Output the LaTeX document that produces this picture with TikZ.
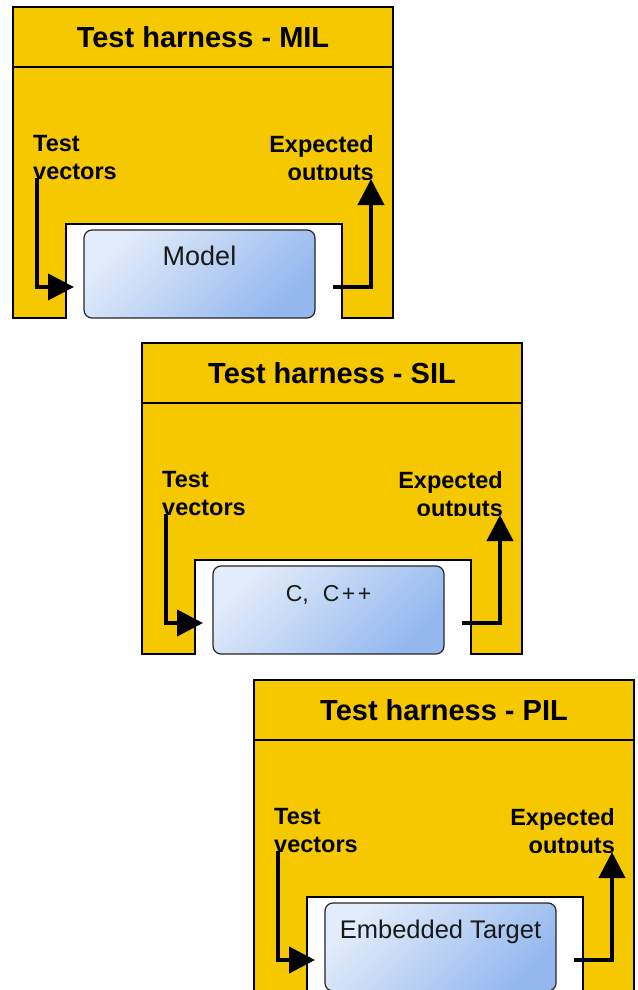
\documentclass[tikz,border=0pt]{standalone}
\usepackage{fontspec}
\setmainfont{Liberation Sans}
\usetikzlibrary{arrows.meta}
\definecolor{harnessyellow}{HTML}{F5C800}
\definecolor{boxlight}{HTML}{E2ECFA}
\definecolor{boxdark}{HTML}{94B8EE}
\tikzset{
  frame/.style={draw=black, line width=1.5pt, fill=harnessyellow, line join=miter},
  divider/.style={draw=black, line width=1.5pt},
  titletext/.style={inner sep=0pt, font=\bfseries\fontsize{29}{34}\selectfont},
  lbl/.style={inner sep=0pt, font=\bfseries\fontsize{23.5}{28}\selectfont},
  modelbox/.style={draw=black!85, line width=1.2pt, rounded corners=8pt,
    top color=boxlight, bottom color=boxdark, shading angle=45,
    minimum width=231pt, inner xsep=0pt, inner ysep=0pt,
    text height=35pt, text depth=53pt, anchor=base, text=black!90},
  flow/.style={draw=black, line width=4pt, line join=miter,
    -{Triangle[length=26pt,width=26pt]}},
}
\newcommand{\harness}[6]{%
  \begin{scope}[shift={(#1,#2)}]
    \draw[frame] (0,0) -- (380,0) -- (380,311) -- (329,311) -- (329,217)
      -- (53,217) -- (53,311) -- (0,311) -- cycle;
    \draw[divider] (0,60) -- (380,60);
    \node[titletext] (#3-title) at (190,30.5) {Test harness - #4};
    \begin{scope}
      \clip (0,0) rectangle (380,172);
      \node[lbl, align=left, anchor=north west] (#3-tv) at (20,128.2) {Test\\vectors};
      \node[lbl, align=right, anchor=north east] (#3-eo) at (361,128.2) {Expected\\outputs};
    \end{scope}
    \node[modelbox, font=#6] (#3-box) at (186.5,258) {#5};
    \coordinate (#3-inS) at (23.5,171);
    \coordinate (#3-inE) at (61,280);
    \coordinate (#3-outS) at (320,280);
    \coordinate (#3-outE) at (358,172);
    \draw[flow] (#3-inS) |- (#3-inE);
    \draw[flow] (#3-outS) -| (#3-outE);
  \end{scope}}
\begin{document}
\begin{tikzpicture}[x=1pt, y=-1pt]
  \useasboundingbox (0,0) rectangle (637,990);
  \clip (0,0) rectangle (637,990);
  \fill[white] (0,0) rectangle (637,990);
  \harness{13}{7}{mil}{MIL}{Model}{\fontsize{27}{32}\selectfont}
  \harness{142}{343}{sil}{SIL}{C,\kern14pt C\kern2.5pt+\kern2.5pt+}{\fontsize{23}{28}\selectfont}
  \harness{254}{680}{pil}{PIL}{Embedded Target}{\fontsize{25.5}{30}\selectfont}
\end{tikzpicture}
\end{document}
